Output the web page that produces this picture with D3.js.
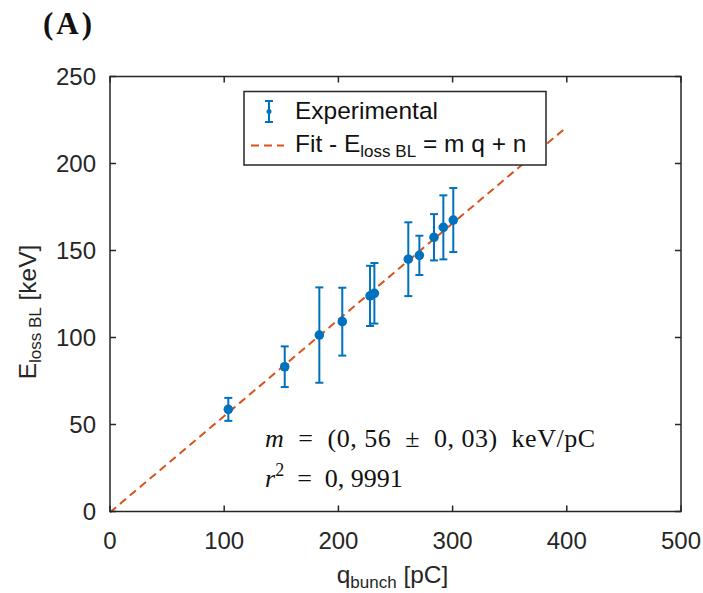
<!DOCTYPE html>
<html>
<head>
<meta charset="utf-8">
<script src="https://cdn.jsdelivr.net/npm/d3@7"></script>
<style>
  body { margin: 0; background: #fff; }
  svg { display: block; }
  text { white-space: pre; }
</style>
</head>
<body>
<script>
var w = 703;
var h = 593;

// measured points (charge in pC, energy loss in keV, error in keV)
var qBunch = [103.6, 153, 183.3, 203.4, 227.7, 231.5, 261.2, 270.9, 283.7, 291.9, 300.6];
var eLoss = [58.7, 83.2, 101.4, 109.1, 123.9, 125.4, 145, 147.2, 157.6, 163.3, 167.5];
var eErr = [6.6, 11.7, 27.4, 19.5, 17.3, 17.4, 21.2, 11.3, 13.3, 18.4, 18.4];

// fit line end points
var fitQ = [0, 400];
var fitE = [-0.5, 221];

var xTicks = [0, 100, 200, 300, 400, 500];
var yTicks = [0, 50, 100, 150, 200, 250];

var axisColor = "#262626";
var blue = "#0072BD";
var orange = "#D95319";
var font = "'Liberation Sans', Arial, sans-serif";
var serif = "'Liberation Serif', 'Times New Roman', serif";

var xScale = d3.scaleLinear().domain([0, 500]).range([110, 681]);
var yScale = d3.scaleLinear().domain([0, 250]).range([511.5, 76.5]);

var svg = d3.select("body").append("svg").attr("width", w).attr("height", h);

//panel label
svg.append("text")
    .attr("x", 43).attr("y", 34)
    .attr("font-family", serif)
    .attr("font-weight", "bold")
    .attr("font-size", "31px")
    .attr("letter-spacing", "3px")
    .attr("fill", "#111")
    .text("(A)");

//fit line
var fitData = fitQ.map((q, i) => [q, fitE[i]]);
svg.append("path")
    .datum(fitData)
    .attr("d", d3.line().x(d => xScale(d[0])).y(d => yScale(d[1])))
    .attr("fill", "none")
    .attr("stroke", orange)
    .attr("stroke-width", 2)
    .attr("stroke-dasharray", "8,5");

//error bars
var pts = qBunch.map((q, i) => ({q: q, e: eLoss[i], err: eErr[i]}));
var bars = svg.append("g").selectAll("g").data(pts).enter().append("g");

bars.append("line")
    .attr("x1", d => xScale(d.q)).attr("x2", d => xScale(d.q))
    .attr("y1", d => yScale(d.e - d.err)).attr("y2", d => yScale(d.e + d.err))
    .attr("stroke", blue).attr("stroke-width", 2);

bars.append("line")
    .attr("x1", d => xScale(d.q) - 4).attr("x2", d => xScale(d.q) + 4)
    .attr("y1", d => yScale(d.e + d.err)).attr("y2", d => yScale(d.e + d.err))
    .attr("stroke", blue).attr("stroke-width", 2);

bars.append("line")
    .attr("x1", d => xScale(d.q) - 4).attr("x2", d => xScale(d.q) + 4)
    .attr("y1", d => yScale(d.e - d.err)).attr("y2", d => yScale(d.e - d.err))
    .attr("stroke", blue).attr("stroke-width", 2);

bars.append("circle")
    .attr("cx", d => xScale(d.q))
    .attr("cy", d => yScale(d.e))
    .attr("r", 4.8)
    .attr("fill", blue);

//axes (ticks inside, mirrored on top and right)
var tickLen = 6;
var axes = svg.append("g").attr("stroke", axisColor).attr("stroke-width", 1.5);

axes.append("rect")
    .attr("x", xScale(0)).attr("y", yScale(250))
    .attr("width", xScale(500) - xScale(0))
    .attr("height", yScale(0) - yScale(250))
    .attr("fill", "none");

xTicks.forEach(t => {
    axes.append("line").attr("x1", xScale(t)).attr("x2", xScale(t))
        .attr("y1", yScale(0)).attr("y2", yScale(0) - tickLen);
    axes.append("line").attr("x1", xScale(t)).attr("x2", xScale(t))
        .attr("y1", yScale(250)).attr("y2", yScale(250) + tickLen);
});
yTicks.forEach(t => {
    axes.append("line").attr("x1", xScale(0)).attr("x2", xScale(0) + tickLen)
        .attr("y1", yScale(t)).attr("y2", yScale(t));
    axes.append("line").attr("x1", xScale(500)).attr("x2", xScale(500) - tickLen)
        .attr("y1", yScale(t)).attr("y2", yScale(t));
});

svg.append("g").selectAll("text").data(xTicks).enter().append("text")
    .attr("x", d => xScale(d))
    .attr("y", 549)
    .attr("text-anchor", "middle")
    .attr("font-family", font).attr("font-size", "24px").attr("fill", axisColor)
    .text(d => d);

svg.append("g").selectAll("text").data(yTicks).enter().append("text")
    .attr("x", 96)
    .attr("y", d => yScale(d) + 8.5)
    .attr("text-anchor", "end")
    .attr("font-family", font).attr("font-size", "24px").attr("fill", axisColor)
    .text(d => d);

//axis labels
var xl = svg.append("text")
    .attr("x", xScale(250) - 3).attr("y", 583)
    .attr("text-anchor", "middle")
    .attr("font-family", font).attr("font-size", "24.5px").attr("fill", axisColor);
xl.append("tspan").text("q");
xl.append("tspan").attr("font-size", "17px").attr("dy", 5).text("bunch");
xl.append("tspan").attr("dy", -5).text(" [pC]");

var yl = svg.append("text")
    .attr("transform", "translate(36,312) rotate(-90)")
    .attr("text-anchor", "middle")
    .attr("font-family", font).attr("font-size", "24.5px").attr("fill", axisColor);
yl.append("tspan").text("E");
yl.append("tspan").attr("font-size", "17px").attr("dy", 5).text("loss BL");
yl.append("tspan").attr("dy", -5).text(" [keV]");

//legend
var lg = svg.append("g");
lg.append("rect")
    .attr("x", 244).attr("y", 91.5).attr("width", 302).attr("height", 73.5)
    .attr("fill", "#fff").attr("stroke", axisColor).attr("stroke-width", 1.5);

lg.append("line").attr("x1", 269).attr("x2", 269).attr("y1", 101).attr("y2", 122)
    .attr("stroke", blue).attr("stroke-width", 2);
lg.append("line").attr("x1", 265).attr("x2", 273).attr("y1", 101).attr("y2", 101)
    .attr("stroke", blue).attr("stroke-width", 2);
lg.append("line").attr("x1", 265).attr("x2", 273).attr("y1", 122).attr("y2", 122)
    .attr("stroke", blue).attr("stroke-width", 2);
lg.append("circle").attr("cx", 269).attr("cy", 111.5).attr("r", 2.5).attr("fill", blue);

lg.append("line").attr("x1", 251).attr("x2", 284).attr("y1", 145.5).attr("y2", 145.5)
    .attr("stroke", orange).attr("stroke-width", 2).attr("stroke-dasharray", "8,5");

lg.append("text").attr("x", 295).attr("y", 119)
    .attr("font-family", font).attr("font-size", "24.5px").attr("fill", "#111")
    .text("Experimental");

var lt = lg.append("text").attr("x", 295).attr("y", 151.5)
    .attr("font-family", font).attr("font-size", "24.5px").attr("fill", "#111");
lt.append("tspan").text("Fit - E");
lt.append("tspan").attr("font-size", "17px").attr("dy", 5).text("loss BL");
lt.append("tspan").attr("dy", -5).text(" = m q + n");

//fit result annotation
var a1 = svg.append("text").attr("x", 265).attr("y", 447)
    .attr("font-family", serif).attr("font-size", "26px").attr("fill", "#111")
    .attr("textLength", 330).attr("lengthAdjust", "spacing");
a1.append("tspan").attr("font-style", "italic").text("m");
a1.append("tspan").text("  =  (0, 56  ±  0, 03)  keV/pC");

var a2 = svg.append("text").attr("x", 265).attr("y", 487)
    .attr("font-family", serif).attr("font-size", "26px").attr("fill", "#111");
a2.append("tspan").attr("font-style", "italic").text("r");
a2.append("tspan").attr("font-size", "18px").attr("dy", -11).text("2");
a2.append("tspan").attr("dy", 11).text("  =  0, 9991");
</script>
</body>
</html>
